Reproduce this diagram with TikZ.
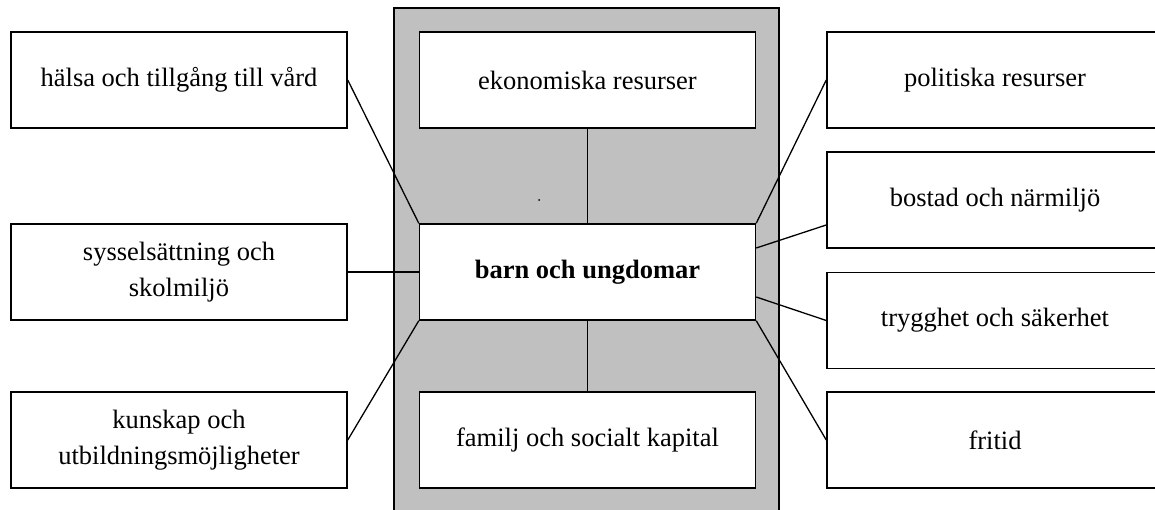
\documentclass[tikz,border=0pt]{standalone}
\usepackage{fontspec}
\setmainfont{Liberation Serif}
\usetikzlibrary{positioning}
\definecolor{panelgray}{RGB}{192,192,192}

\begin{document}
\begin{tikzpicture}[x=1pt,y=-1pt,line width=1.3pt,
    box/.style={draw,fill=white,rectangle,line width=1.5pt,minimum width=336pt,minimum height=96pt,align=center,inner sep=0pt,font=\fontsize{26.5}{36}\selectfont}]

    \useasboundingbox (0,0) rectangle (1155,510);
    \clip (0,0) rectangle (1155,510);

    % Grey panel
	\draw[fill=panelgray,line width=1.5pt] (394,8) rectangle (779,560);

    % The boxes
	\node [box] at (179,80) (halsa) {hälsa och tillgång till vård};
	\node [box] at (179,272) (syssel) {sysselsättning och\\skolmiljö};
	\node [box] at (179,440) (kunskap) {kunskap och\\utbildningsmöjligheter};
	\node [box] at (587.5,80) (ekonomi) {ekonomiska resurser};
	\node [box,font=\fontsize{26.5}{36}\selectfont\bfseries] at (587.5,272) (barn) {barn och ungdomar};
	\node [box] at (587.5,440) (familj) {familj och socialt kapital};
	\node [box] at (995,80) (politik) {politiska resurser};
	\node [box] at (995,200) (bostad) {bostad och närmiljö};
	\node [box] at (995,320.5) (trygg) {trygghet och säkerhet};
	\node [box] at (995,440) (fritid) {fritid};
	\node [circle,fill,inner sep=0pt,minimum size=2pt] at (539,200) (dot) {};

	% Connectors
	\path[draw]
	(halsa.east) edge (barn.north west)
	(syssel.east) edge (barn.west)
	(kunskap.east) edge (barn.south west)
	(ekonomi) edge (barn)
	(barn) edge (familj)
	(politik.west) edge (barn.north east)
	([yshift=-25pt]bostad.west) edge ([yshift=24pt]barn.east)
	(trygg.west) edge ([yshift=-25pt]barn.east)
	(fritid.west) edge (barn.south east)
	;

\end{tikzpicture}
\end{document}
